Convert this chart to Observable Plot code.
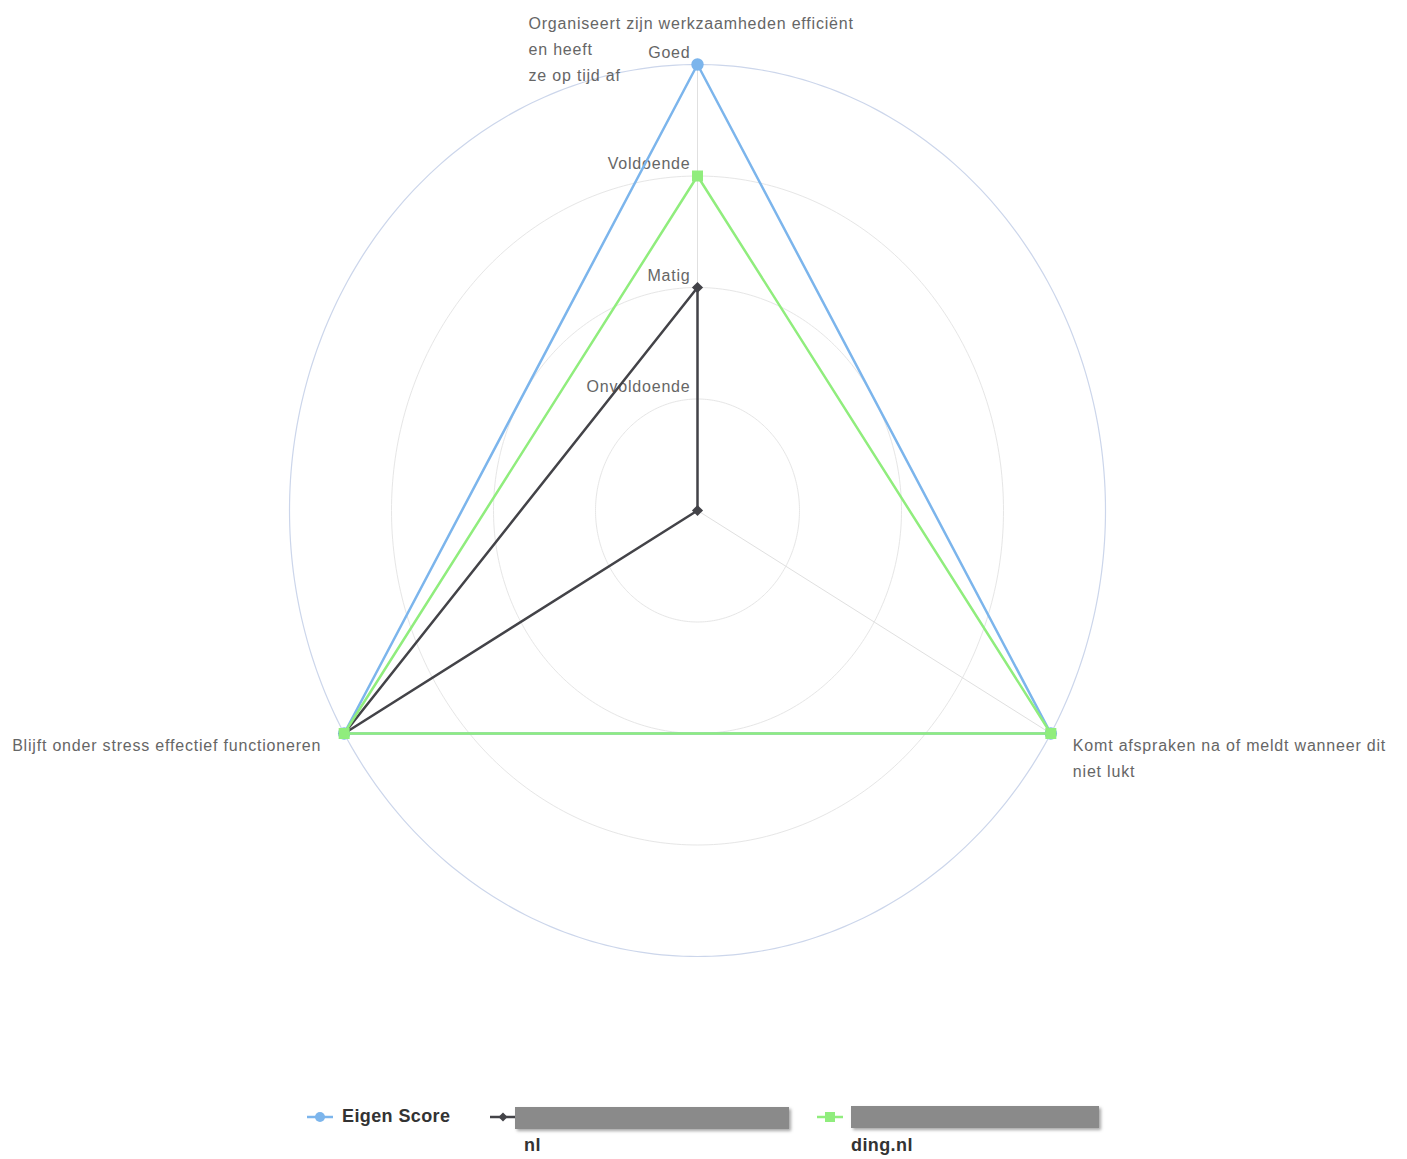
<!DOCTYPE html>
<html><head><meta charset="utf-8">
<script src="https://cdn.jsdelivr.net/npm/d3@7"></script>
<script src="https://cdn.jsdelivr.net/npm/@observablehq/plot@0.6"></script>
<style>
body{margin:0;background:#fff;font-family:"Liberation Sans",Arial,sans-serif;}
#chart svg{display:block;}
#legend{position:relative;width:1407px;height:69px;}
#legend .it{position:absolute;white-space:nowrap;}
#legend .lbl{font-weight:bold;font-size:18px;letter-spacing:0.4px;color:#333;}
#legend .bar{position:absolute;background:#8a8a8a;box-shadow:2px 2px 3px rgba(0,0,0,0.35);}
</style></head><body>
<div id="chart"></div>
<div id="legend"></div>
<script>
const categories = [
  "Organiseert zijn werkzaamheden efficiënt\nen heeft\nze op tijd af",
  "Komt afspraken na of meldt wanneer dit\nniet lukt",
  "Blijft onder stress effectief functioneren"
];
const levelValues = [1, 2, 3, 4];
const levelLabels = ["Onvoldoende", "Matig", "Voldoende", "Goed"];
const seriesNames = ["Eigen Score", "nl", "ding.nl"];
const eigenScore = [4, 4, 4];
const seriesB = [2, 0, 4];
const seriesC = [3, 4, 4];
const seriesColors = ["#7cb5ec", "#434348", "#90ed7d"];
const seriesSymbols = ["circle", "diamond2", "square"];

const ang = i => i * 2 * Math.PI / categories.length;
const px = (v, i) => v * Math.sin(ang(i));
const py = (v, i) => v * Math.cos(ang(i));
const maxV = d3.max(levelValues);

const ringPts = levelValues.flatMap(v => d3.range(0, 360, 1).map(a => ({v, x: v * Math.sin(a * Math.PI / 180), y: v * Math.cos(a * Math.PI / 180)})));
const pts = vals => vals.map((v, i) => ({x: px(v, i), y: py(v, i)}));
const allSeries = [eigenScore, seriesB, seriesC];

const marks = [
  Plot.line(ringPts.filter(d => d.v < maxV), {x: "x", y: "y", z: "v", curve: "linear-closed", stroke: "#e6e6e6", strokeWidth: 1}),
  Plot.line(ringPts.filter(d => d.v === maxV), {x: "x", y: "y", curve: "linear-closed", stroke: "#ccd6eb", strokeWidth: 1.2}),
  Plot.link(categories.map((c, i) => i), {x1: 0, y1: 0, x2: i => px(maxV, i), y2: i => py(maxV, i), stroke: "#e0e0e0", strokeWidth: 1}),
  Plot.text(levelValues, {x: 0, y: d => d, text: (d, i) => levelLabels[i], textAnchor: "end", dx: -7, dy: -12, fill: "#666", fontSize: 16}),
];
allSeries.forEach((s, k) => {
  marks.push(Plot.line(pts(s), {x: "x", y: "y", curve: "linear-closed", stroke: seriesColors[k], strokeWidth: 2.5}));
  marks.push(Plot.dot(pts(s), {x: "x", y: "y", symbol: seriesSymbols[k], fill: seriesColors[k], stroke: "none", r: k === 1 ? 5 : 6.2}));
});
const labelOpts = [
  {textAnchor: "start", dx: -169, dy: -18},
  {textAnchor: "start", dx: 22, dy: 22},
  {textAnchor: "end", dx: -23, dy: 9}
];
categories.forEach((c, i) => {
  marks.push(Plot.text([i], {x: d => px(maxV, d), y: d => py(maxV, d), text: d => categories[d], lineAnchor: "middle", lineHeight: 1.65, fill: "#666", fontSize: 16, ...labelOpts[i]}));
});

const chart = Plot.plot({
  width: 1407, height: 1090,
  x: {domain: [-maxV, maxV], range: [289, 1105], axis: null},
  y: {domain: [-maxV, maxV], range: [956, 64], axis: null},
  style: {fontFamily: '"Liberation Sans", Arial, sans-serif', background: "#fff", letterSpacing: "0.8px"},
  marks
});
document.getElementById("chart").append(chart);

// legend
const lg = document.getElementById("legend");
const legendItems = [
  {x: 307, barLeft: null, textLeft: 342, sub: null},
  {x: 490, barLeft: 515, barW: 274, barTop: 17, textLeft: 524, sub: seriesNames[1]},
  {x: 817, barLeft: 851, barW: 248, barTop: 16, textLeft: 851, sub: seriesNames[2]}
];
legendItems.forEach((it, k) => {
  const sym = document.createElementNS("http://www.w3.org/2000/svg", "svg");
  sym.setAttribute("width", 28); sym.setAttribute("height", 16);
  sym.style.position = "absolute"; sym.style.left = it.x + "px"; sym.style.top = "19px";
  let shape;
  const c = seriesColors[k];
  if (k === 0) shape = `<circle cx="13" cy="8" r="5" fill="${c}"/>`;
  else if (k === 1) shape = `<path d="M13 3.5 L17.5 8 L13 12.5 L8.5 8 Z" fill="${c}"/>`;
  else shape = `<rect x="8" y="3" width="10" height="10" fill="${c}"/>`;
  sym.innerHTML = `<line x1="0" y1="8" x2="26" y2="8" stroke="${c}" stroke-width="2.5"/>` + shape;
  lg.append(sym);
  if (k === 0) {
    const t = document.createElement("div");
    t.className = "it lbl"; t.textContent = seriesNames[0];
    t.style.left = it.textLeft + "px"; t.style.top = "16px";
    lg.append(t);
  } else {
    const b = document.createElement("div");
    b.className = "bar"; b.style.left = it.barLeft + "px"; b.style.top = it.barTop + "px";
    b.style.width = it.barW + "px"; b.style.height = "22px";
    lg.append(b);
    const t = document.createElement("div");
    t.className = "it lbl"; t.textContent = it.sub;
    t.style.left = it.textLeft + "px"; t.style.top = "45px";
    lg.append(t);
  }
});
</script>
</body></html>
